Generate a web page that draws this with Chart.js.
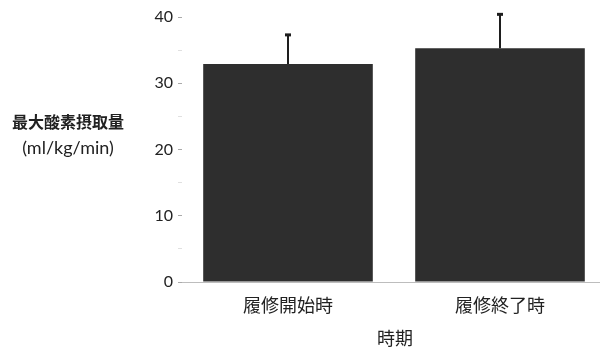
<!DOCTYPE html>
<html>
<head>
<meta charset="utf-8">
<script src="https://cdn.jsdelivr.net/npm/chart.js@4/dist/chart.umd.min.js"></script>
<style>
html,body{margin:0;padding:0;background:#fff;overflow:hidden;}
#wrap{width:606px;height:348px;}
</style>
</head>
<body>
<div id="wrap"><canvas id="c" width="606" height="348"></canvas></div>
<script>
const categories = ['履修開始時', '履修終了時'];
const meanValues = [32.9, 35.3];
const sdValues = [4.4, 5.1];
const yTickValues = [0, 10, 20, 30, 40];
const yTitleLines = ['最大酸素摂取量', '(ml/kg/min)'];
const xTitle = '時期';

const CJK = '"Noto Sans CJK JP", "Noto Sans", sans-serif';
const NUM = 'Lato, "Noto Sans", sans-serif';

const errorBars = {
  id: 'errorBars',
  afterDatasetsDraw(chart) {
    const meta = chart.getDatasetMeta(0);
    const ys = chart.scales.y;
    const ctx = chart.ctx;
    ctx.save();
    ctx.strokeStyle = '#1e1e1e';
    meta.data.forEach((bar, i) => {
      const x = bar.x;
      const yTop = ys.getPixelForValue(meanValues[i] + sdValues[i]);
      const yBar = ys.getPixelForValue(meanValues[i]);
      ctx.lineWidth = 2;
      ctx.beginPath();
      ctx.moveTo(x, yBar);
      ctx.lineTo(x, yTop);
      ctx.stroke();
      ctx.lineWidth = 3;
      ctx.beginPath();
      ctx.moveTo(x - 3, yTop);
      ctx.lineTo(x + 3, yTop);
      ctx.stroke();
    });
    ctx.restore();
  }
};

const titles = {
  id: 'titles',
  afterDraw(chart) {
    const ctx = chart.ctx;
    ctx.save();
    ctx.fillStyle = '#222';
    ctx.textAlign = 'center';
    ctx.textBaseline = 'middle';
    ctx.font = 'bold 16px ' + CJK;
    ctx.fillText(yTitleLines[0], 68, 122);
    ctx.font = '18px ' + NUM;
    ctx.fillText(yTitleLines[1], 68, 148);
    ctx.font = '18px ' + CJK;
    ctx.fillText(xTitle, 395, 338);
    ctx.restore();
  }
};

new Chart(document.getElementById('c'), {
  type: 'bar',
  data: {
    labels: categories,
    datasets: [{
      data: meanValues,
      backgroundColor: '#2e2e2e',
      borderWidth: 0,
      barPercentage: 0.8,
      categoryPercentage: 1.0
    }]
  },
  options: {
    responsive: false,
    animation: false,
    devicePixelRatio: 1,
    layout: { padding: { top: 17, right: 0, left: 0, bottom: 0 } },
    plugins: { legend: { display: false }, tooltip: { enabled: false }, title: { display: false } },
    scales: {
      x: {
        grid: { display: false },
        border: { display: true, color: '#bdbdbd', dash: [6, 3], width: 1 },
        ticks: { color: '#222', font: { family: CJK, size: 18 }, padding: 4 },
        afterFit(scale) { scale.height = 66; }
      },
      y: {
        min: 0,
        max: 40,
        afterBuildTicks(scale) {
          const t = [];
          for (let v = 0; v <= 40; v += 5) t.push({ value: v });
          scale.ticks = t;
        },
        grid: {
          drawOnChartArea: false,
          tickLength: 4,
          color: (c) => (c.tick && c.tick.value % 10 === 0) ? '#aaaaaa' : '#e0e0e0'
        },
        border: { display: false },
        ticks: {
          color: '#222',
          padding: 5,
          font: { family: NUM, size: 16 },
          callback: (v) => yTickValues.includes(v) ? String(v) : ''
        },
        afterFit(scale) { scale.width = 182; }
      }
    }
  },
  plugins: [errorBars, titles]
});
</script>
</body>
</html>
